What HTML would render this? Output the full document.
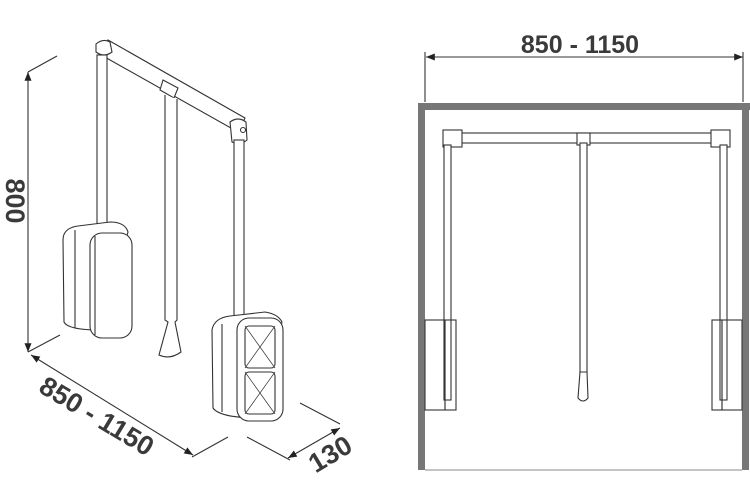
<!DOCTYPE html>
<html><head><meta charset="utf-8"><style>
html,body{margin:0;padding:0;background:#fff;}
svg{display:block;}
text{font-family:"Liberation Sans",sans-serif;font-weight:bold;fill:#3a3a3a;}
</style></head><body>
<svg width="750" height="500" viewBox="0 0 750 500" xmlns="http://www.w3.org/2000/svg">
<defs>
<marker id="ar" viewBox="0 0 10 10" refX="10" refY="5" markerWidth="8" markerHeight="8" orient="auto-start-reverse"><path d="M0,1 L10,5 L0,9z" fill="#222"/></marker>
</defs>
<g stroke="#333" stroke-width="1.1" fill="none">
<line x1="28" y1="72" x2="28" y2="352" marker-start="url(#ar)" marker-end="url(#ar)"/>
<line x1="28" y1="72" x2="57" y2="56"/>
<line x1="28" y1="352" x2="60" y2="335"/>
<line x1="31" y1="355" x2="193" y2="455" marker-start="url(#ar)" marker-end="url(#ar)"/>
<line x1="192" y1="457" x2="228" y2="437"/>
<line x1="288" y1="458" x2="340" y2="428" marker-start="url(#ar)" marker-end="url(#ar)"/>
<line x1="300" y1="403" x2="340" y2="424"/>
<line x1="247" y1="437" x2="290" y2="460"/>
<path d="M108,40 L245,118 L238,132 L103,56 Z" fill="#fff"/>
<path d="M163,80 L178,88 L174,98 L160,90 Z" fill="#fff"/>
<path d="M96,44 Q103,38 110,42 L112,52 Q104,58 96,52 Z" fill="#fff"/>
<path d="M230,122 Q238,116 246,122 L247,140 Q240,146 232,142 Z" fill="#fff"/>
<circle cx="243" cy="130" r="2.5"/>
<rect x="97" y="55" width="10" height="175" fill="#fff"/>
<path d="M165,95 L165,320 L168,322 L159,355 Q170,360 181,352 L175,322 L177,320 L177,99" fill="#fff"/>
<rect x="234" y="140" width="10" height="180" fill="#fff"/>
<path d="M63,240 Q63,228 78,226 L110,222 Q125,222 128,232 L100,330 Q68,330 64,322 Z" fill="#fff"/>
<line x1="75" y1="230" x2="75" y2="328"/>
<rect x="90" y="233" width="42" height="105" rx="12" fill="#fff"/>
<line x1="95" y1="236" x2="95" y2="335"/>
<path d="M212,330 Q214,318 230,316 L265,312 Q278,314 282,322 L260,418 Q220,418 213,408 Z" fill="#fff"/>
<line x1="222" y1="324" x2="222" y2="412"/>
<rect x="237" y="318" width="46" height="103" rx="12" fill="#fff"/>
<rect x="245" y="326" width="30" height="42" rx="4"/>
<rect x="245" y="372" width="30" height="42" rx="4"/>
<path d="M245,326 L275,368 M275,326 L245,368 M245,372 L275,414 M275,372 L245,414" stroke-width="0.7"/>
</g>
<text x="0" y="0" font-size="27" transform="translate(6,201) rotate(90)" text-anchor="middle">800</text>
<text x="0" y="0" font-size="27" transform="translate(92,424) rotate(31)" text-anchor="middle">850 - 1150</text>
<text x="0" y="0" font-size="27" transform="translate(335,462) rotate(-31)" text-anchor="middle">130</text>

<text x="580" y="53" font-size="25" text-anchor="middle">850 - 1150</text>
<g stroke="#333" stroke-width="1.1" fill="none">
<line x1="426" y1="57" x2="743" y2="57" marker-start="url(#ar)" marker-end="url(#ar)"/>
<line x1="425" y1="52" x2="425" y2="102"/>
<line x1="743" y1="52" x2="743" y2="102"/>
</g>
<rect x="418" y="103" width="332" height="7" fill="#777"/>
<rect x="418" y="103" width="7" height="367" fill="#777"/>
<rect x="742" y="103" width="7" height="367" fill="#777"/>
<line x1="425" y1="470" x2="742" y2="470" stroke="#888" stroke-width="1"/>
<g stroke="#333" stroke-width="1.1" fill="#fff">
<rect x="450" y="133" width="272" height="10"/>
<rect x="443" y="130" width="19" height="17"/>
<rect x="577" y="133" width="13" height="12"/>
<rect x="711" y="130" width="19" height="17"/>
<rect x="444" y="145" width="7" height="255"/>
<rect x="720" y="145" width="7" height="255"/>
<rect x="425" y="320" width="20" height="90" fill="none"/>
<rect x="445" y="320" width="11" height="90" fill="none"/>
<rect x="712" y="320" width="10" height="90" fill="none"/>
<rect x="722" y="320" width="20" height="90" fill="none"/>
<rect x="580" y="143" width="7" height="230"/>
<path d="M580,372 L578,398 Q583,404 588,398 L587,372 Z"/>
</g>
</svg>
</body></html>
